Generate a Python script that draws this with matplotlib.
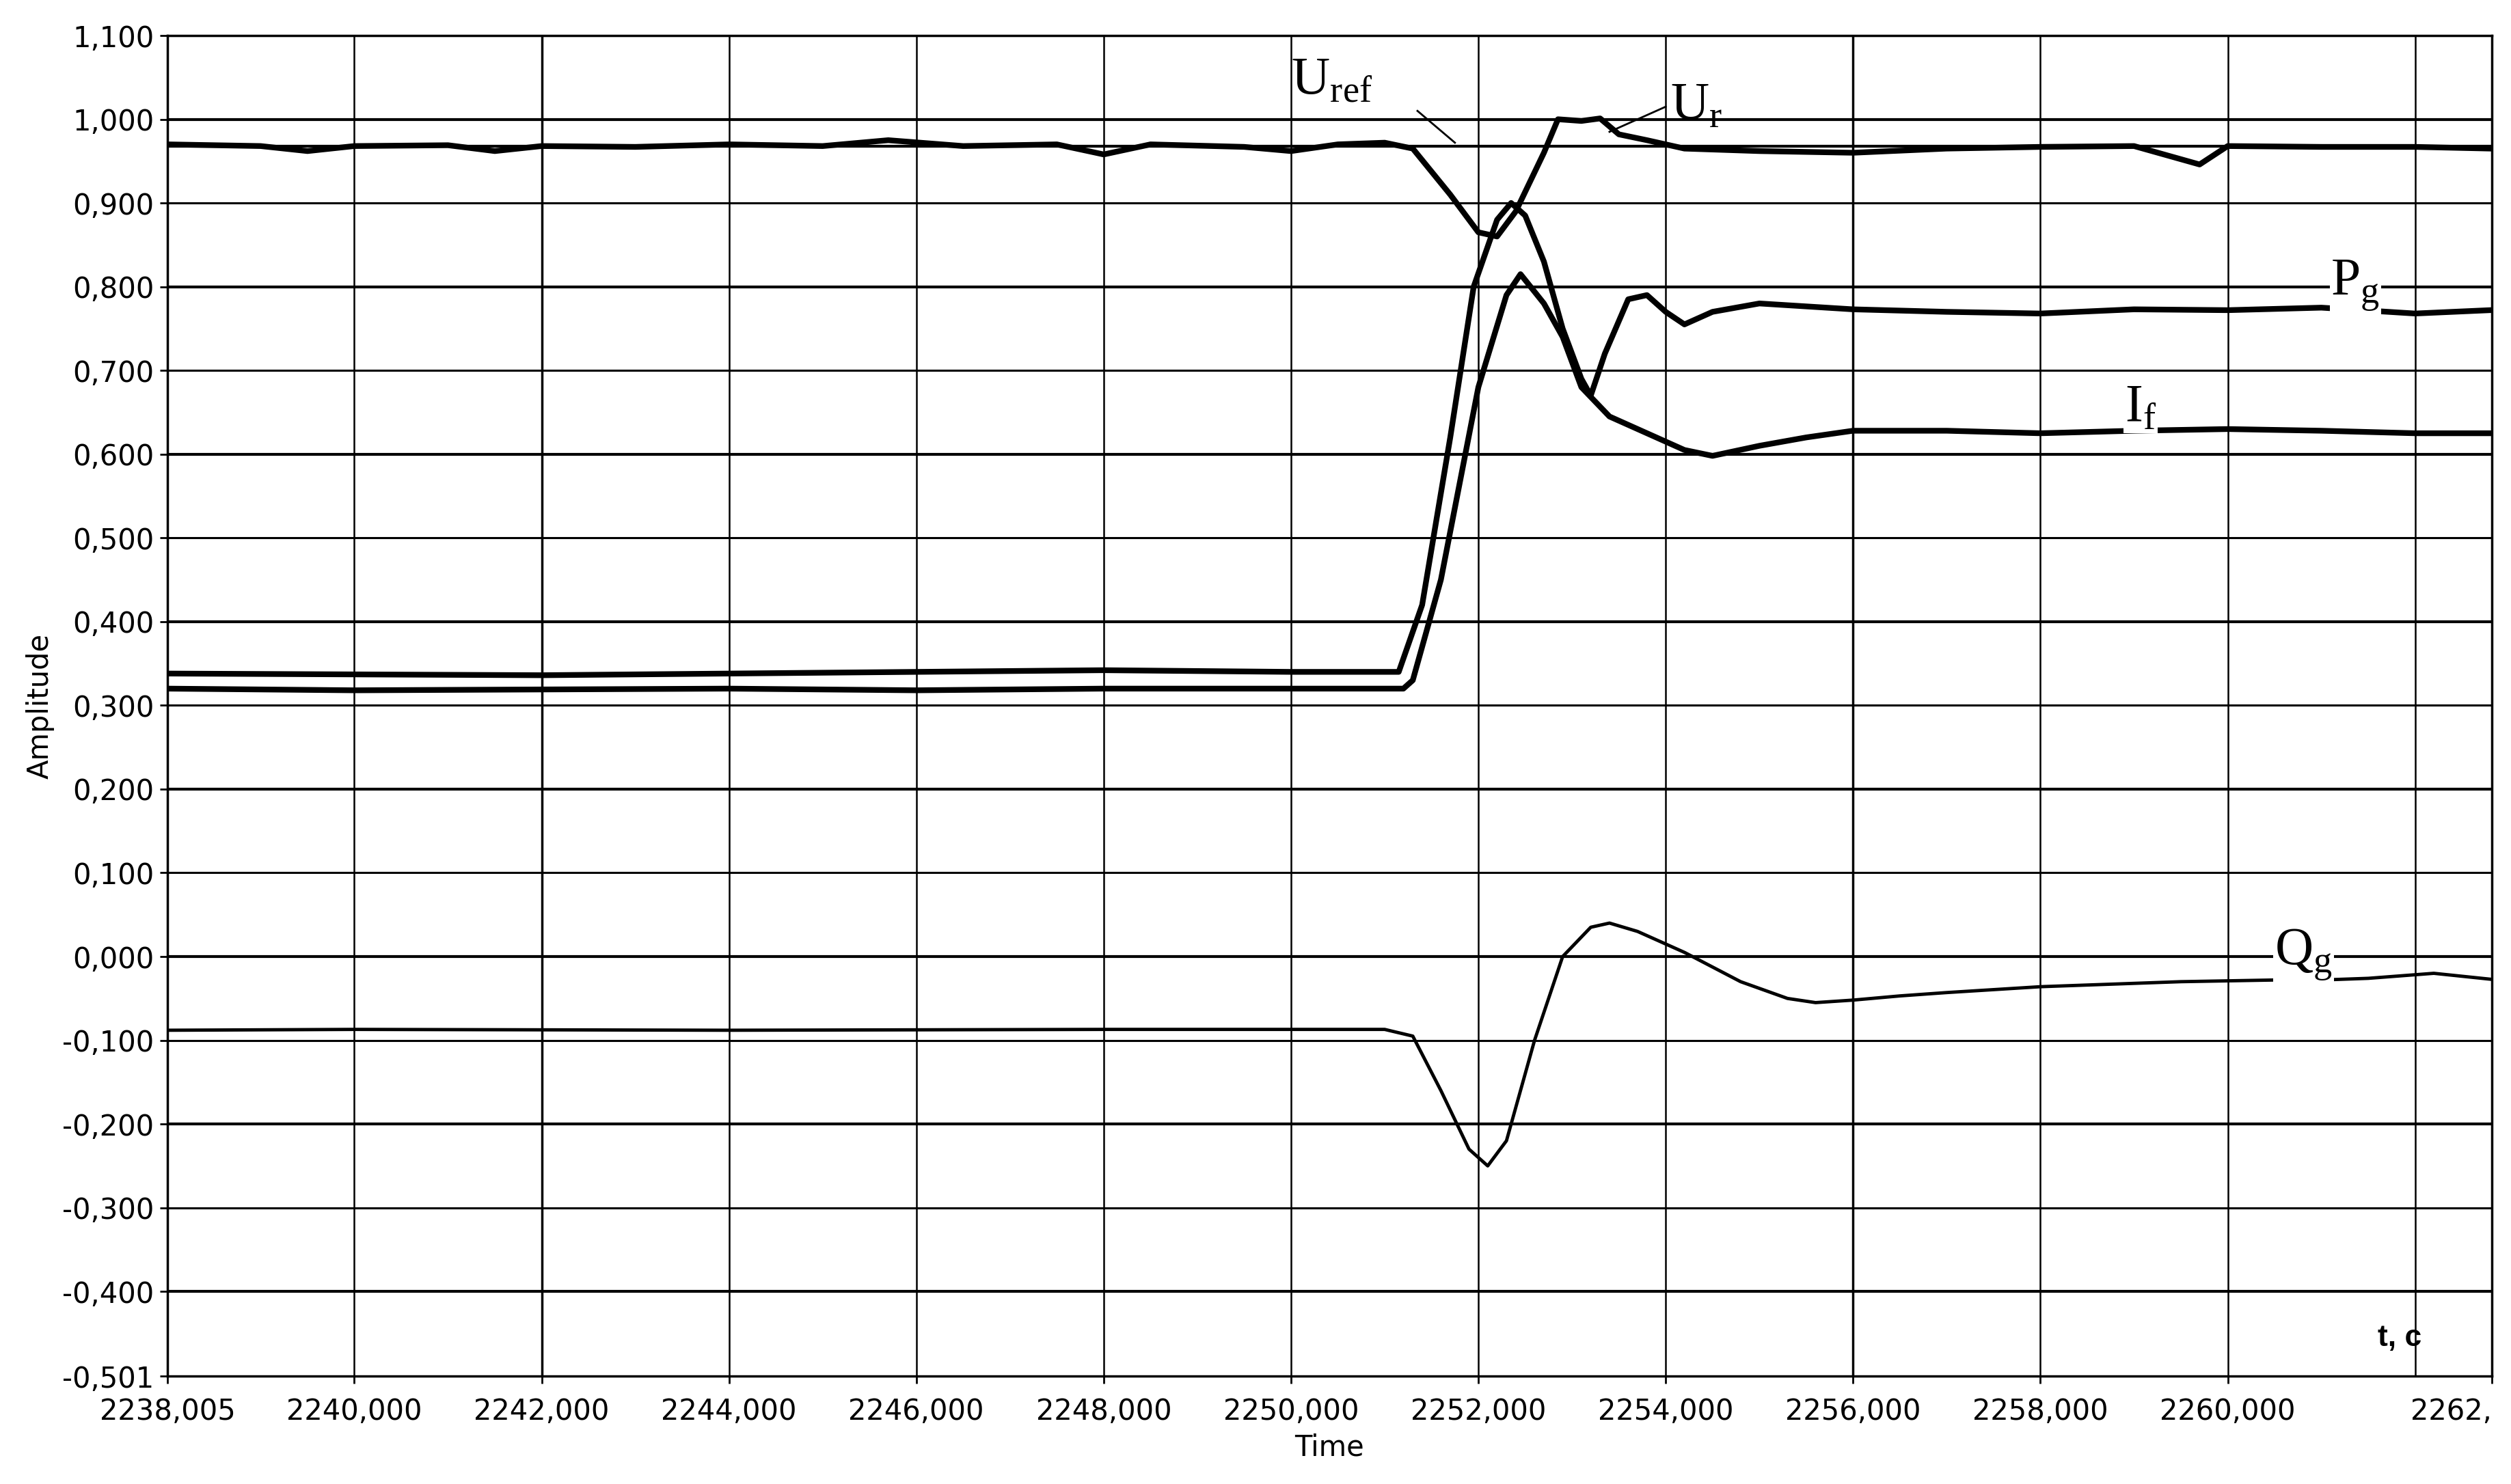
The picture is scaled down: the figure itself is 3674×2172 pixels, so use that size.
import matplotlib
matplotlib.use("Agg")
import matplotlib.pyplot as plt
import numpy as np

# ---- data ----
t_ur = [2238.005, 2239.0, 2239.5, 2240.0, 2241.0, 2241.5, 2242.0, 2243.0, 2244.0, 2245.0, 2245.7, 2246.5,
        2247.5, 2248.0, 2248.5, 2249.5, 2250.0, 2250.5, 2251.0, 2251.3, 2251.7, 2252.0, 2252.2, 2252.4,
        2252.7, 2252.85, 2253.1, 2253.3, 2253.5, 2253.8, 2254.2, 2255.0, 2256.0, 2257.0, 2258.0, 2259.0,
        2259.7, 2260.0, 2261.0, 2262.0, 2262.8]
ur = [0.970, 0.968, 0.962, 0.968, 0.969, 0.962, 0.968, 0.967, 0.970, 0.968, 0.975, 0.968,
      0.970, 0.958, 0.970, 0.967, 0.962, 0.970, 0.972, 0.965, 0.910, 0.865, 0.860, 0.890,
      0.960, 1.000, 0.998, 1.001, 0.982, 0.975, 0.965, 0.962, 0.960, 0.965, 0.967, 0.968,
      0.946, 0.968, 0.967, 0.967, 0.965]
t_uref = [2238.005, 2262.82]
uref = [0.968, 0.968]

t_pg = [2238.005, 2240.0, 2242.0, 2244.0, 2246.0, 2248.0, 2250.0, 2251.15, 2251.4, 2251.7, 2251.95, 2252.2,
        2252.35, 2252.5, 2252.7, 2252.9, 2253.1, 2253.2, 2253.35, 2253.6, 2253.8, 2254.0, 2254.2, 2254.5,
        2255.0, 2256.0, 2257.0, 2258.0, 2259.0, 2260.0, 2261.0, 2262.0, 2262.8]
pg = [0.338, 0.337, 0.336, 0.338, 0.340, 0.342, 0.340, 0.340, 0.420, 0.620, 0.800, 0.880,
      0.900, 0.885, 0.830, 0.750, 0.690, 0.670, 0.720, 0.785, 0.790, 0.770, 0.755, 0.770,
      0.780, 0.773, 0.770, 0.768, 0.773, 0.772, 0.775, 0.768, 0.772]

t_if = [2238.005, 2240.0, 2242.0, 2244.0, 2246.0, 2248.0, 2250.0, 2251.2, 2251.3, 2251.6, 2252.0, 2252.3,
        2252.45, 2252.7, 2252.9, 2253.1, 2253.4, 2253.8, 2254.2, 2254.5, 2255.0, 2255.5, 2256.0, 2257.0,
        2258.0, 2259.0, 2260.0, 2261.0, 2262.0, 2262.8]
If = [0.320, 0.318, 0.319, 0.320, 0.318, 0.320, 0.320, 0.320, 0.330, 0.450, 0.680, 0.790,
      0.815, 0.780, 0.740, 0.680, 0.645, 0.625, 0.605, 0.598, 0.610, 0.620, 0.628, 0.628,
      0.625, 0.628, 0.630, 0.628, 0.625, 0.625]

t_qg = [2238.005, 2240.0, 2244.0, 2248.0, 2251.0, 2251.3, 2251.6, 2251.9, 2252.1, 2252.3, 2252.6, 2252.9,
        2253.2, 2253.4, 2253.7, 2254.2, 2254.8, 2255.3, 2255.6, 2256.0, 2256.5, 2257.0, 2258.0, 2259.0,
        2259.5, 2260.5, 2261.0, 2261.5, 2262.2, 2262.8]
qg = [-0.088, -0.087, -0.088, -0.087, -0.087, -0.095, -0.160, -0.230, -0.250, -0.220, -0.100, 0.000,
      0.035, 0.040, 0.030, 0.005, -0.030, -0.050, -0.055, -0.052, -0.047, -0.043, -0.036, -0.032,
      -0.030, -0.028, -0.028, -0.026, -0.020, -0.027]

x_ticks = [2238.005, 2240, 2242, 2244, 2246, 2248, 2250, 2252, 2254, 2256, 2258, 2260, 2262.82]
x_labels = ["2238,005", "2240,000", "2242,000", "2244,000", "2246,000", "2248,000", "2250,000",
            "2252,000", "2254,000", "2256,000", "2258,000", "2260,000", "2262,"]
y_ticks = [-0.501, -0.4, -0.3, -0.2, -0.1, 0.0, 0.1, 0.2, 0.3, 0.4, 0.5, 0.6, 0.7, 0.8, 0.9, 1.0, 1.1]
y_labels = ["-0,501", "-0,400", "-0,300", "-0,200", "-0,100", "0,000", "0,100", "0,200", "0,300",
            "0,400", "0,500", "0,600", "0,700", "0,800", "0,900", "1,000", "1,100"]

plt.rcParams['font.family'] = ['Liberation Sans Narrow', 'DejaVu Sans']
fig = plt.figure(figsize=(36.74, 21.72), dpi=100)
ax = fig.add_axes([245/3674, 1 - 2014/2172, (3646-245)/3674, (2014-52)/2172])
ax.set_xlim(2238.005, 2262.82)
ax.set_ylim(-0.501, 1.1)

# grid
for x in [2240, 2242, 2244, 2246, 2248, 2250, 2252, 2254, 2256, 2258, 2260, 2262]:
    ax.axvline(x, color='black', lw=2.5 if x in (2242, 2256) else 1.8, zorder=1)
for y in y_ticks[1:]:
    ax.axhline(y, color='black', lw=3.0 if abs(y*10 % 2) < 0.01 else 2.2, zorder=1)

ax.plot(t_uref, uref, color='black', lw=3, zorder=3)
ax.plot(t_ur, ur, color='black', lw=6, zorder=3)
ax.plot(t_pg, pg, color='black', lw=6, zorder=3)
ax.plot(t_if, If, color='black', lw=6, zorder=3)
ax.plot(t_qg, qg, color='black', lw=3.5, zorder=3)

ax.set_xticks(x_ticks)
ax.set_xticklabels(x_labels, fontsize=30)
ax.get_xticklabels()[-1].set_horizontalalignment('right')
ax.set_yticks(y_ticks)
ax.set_yticklabels(y_labels, fontsize=30)
ax.tick_params(axis='x', length=8, width=2, direction='out', pad=14)
ax.tick_params(axis='y', length=8, width=2, direction='out', pad=6)
for s in ax.spines.values():
    s.set_linewidth(2.5)
ax.set_xlabel("Time", fontsize=30, labelpad=8)
ax.set_ylabel("Amplitude", fontsize=30, labelpad=8)

serif = {'family': ['Liberation Serif', 'DejaVu Serif'], 'fontsize': 56}
ax.text(2250.0, 1.03, r"U$_{\mathregular{ref}}$", **serif, zorder=5)
ax.plot([2251.35, 2251.75], [1.01, 0.972], color='black', lw=2, zorder=4)
ax.text(2254.05, 1.0, r"U$_{\mathregular{r}}$", **serif, zorder=5)
ax.plot([2253.4, 2254.0], [0.985, 1.015], color='black', lw=2, zorder=4)
ax.text(2261.1, 0.79, r"P$_{\mathregular{g}}$", **serif, bbox=dict(fc='white', ec='none', pad=1), zorder=5)
ax.text(2258.9, 0.64, r"I$_{\mathregular{f}}$", **serif, bbox=dict(fc='white', ec='none', pad=1), zorder=5)
ax.text(2260.5, -0.01, r"Q$_{\mathregular{g}}$", **serif, bbox=dict(fc='white', ec='none', pad=1), zorder=5)
ax.text(2261.6, -0.465, "t, c", fontsize=32, fontweight='bold', family=['Liberation Sans', 'DejaVu Sans'], zorder=5)

fig.savefig("out.png", dpi=100)
